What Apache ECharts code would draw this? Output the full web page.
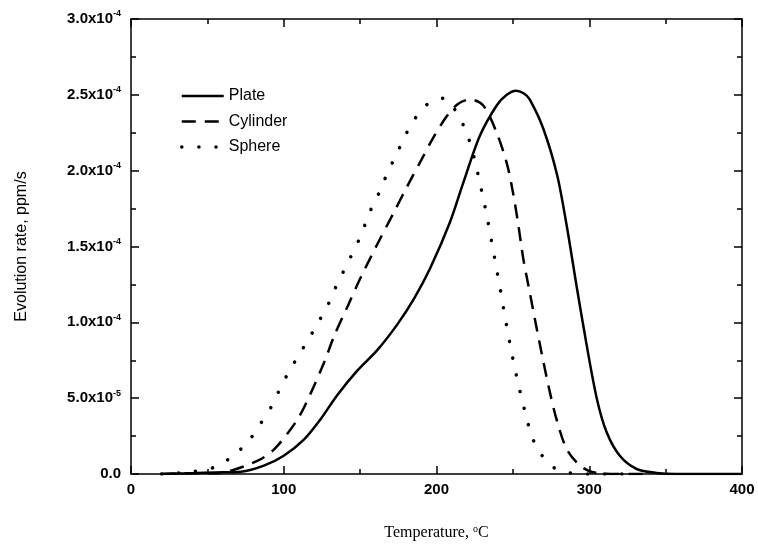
<!DOCTYPE html>
<html><head><meta charset="utf-8">
<script src="https://cdn.jsdelivr.net/npm/echarts@6/dist/echarts.min.js"></script>
<style>html,body{margin:0;padding:0;background:#fff}#c{width:758px;height:551px}</style>
</head><body><div id="c"></div>
<script>
const plateT = [20, 40, 55, 72, 87, 100, 113.5, 124, 135, 148, 161.5, 174.6, 185.5, 196, 208.8, 217.5, 228.4, 239.4, 246, 252, 257, 261, 270, 279, 285.2, 291.7, 298.3, 305, 311.4, 320, 331, 344, 357, 380, 400];
const plateV = [0, 0.05, 0.1, 0.15, 0.55, 1.2, 2.3, 3.6, 5.2, 6.8, 8.2, 9.9, 11.6, 13.6, 16.6, 19.2, 22.3, 24.3, 25.0, 25.27, 25.1, 24.7, 22.75, 19.7, 16.4, 12.4, 8.5, 4.95, 2.75, 1.2, 0.33, 0.07, 0, 0, 0];
const cylT = [20, 40, 50, 63, 83, 94, 109, 118, 126.6, 133, 142, 150.6, 161.5, 171.3, 181, 190, 198, 206.8, 214, 222, 230.6, 239.4, 246, 250, 253.6, 256.8, 261, 265.6, 270, 274.2, 278.6, 285.2, 294, 302.6, 318, 340];
const cylV = [0, 0.05, 0.05, 0.15, 0.88, 1.65, 3.6, 5.4, 7.4, 9.1, 11.1, 13.0, 15.2, 17.1, 19.0, 20.7, 22.2, 23.6, 24.4, 24.7, 24.3, 22.5, 20.5, 18.6, 16.4, 14.2, 12.0, 9.6, 7.4, 5.4, 3.6, 1.65, 0.55, 0.11, 0, 0];
const sphT = [20, 40, 54.5, 65.5, 76.4, 84, 91.7, 97, 102.6, 109, 115.7, 122, 128.7, 133, 138.6, 144, 149.5, 153.8, 158.2, 163.7, 168, 173.5, 179, 185, 194.2, 204.5, 213.2, 218.6, 223, 228.4, 232.8, 237, 241, 244.8, 249, 253.6, 259, 262.3, 267.8, 276.5, 287.4, 300, 330];
const sphV = [0, 0.15, 0.44, 1.1, 2.1, 3.2, 4.4, 5.5, 6.6, 7.7, 8.8, 9.9, 11.1, 12.1, 13.25, 14.35, 15.5, 16.6, 17.7, 18.8, 19.9, 21.0, 22.2, 23.3, 24.4, 24.77, 23.85, 22.75, 21.5, 19.2, 17.1, 14.8, 12.6, 10.4, 8.1, 5.9, 3.7, 2.5, 1.4, 0.44, 0.07, 0, 0];
const seriesNames = ['Plate', 'Cylinder', 'Sphere'];
const yTickMant = {0: '0.0', 5e-5: '5.0x10{s|-5}', 1e-4: '1.0x10{s|-4}', 1.5e-4: '1.5x10{s|-4}', 2e-4: '2.0x10{s|-4}', 2.5e-4: '2.5x10{s|-4}', 3e-4: '3.0x10{s|-4}'};
const xTicks = [0, 100, 200, 300, 400];

function pairs(t, v) { return t.map((x, i) => [x, v[i] * 1e-5]); }

const chart = echarts.init(document.getElementById('c'), null, {renderer: 'canvas'});
const tickCommon = {show: true, inside: true, length: 8, lineStyle: {color: '#000', width: 1.5}};
const minorCommon = {show: true, splitNumber: 2, length: 5, lineStyle: {color: '#000', width: 1.5}};
const lineCommon = {show: true, onZero: false, lineStyle: {color: '#000', width: 1.5}};
const ykey = v => {
  const keys = Object.keys(yTickMant).map(Number);
  let best = keys[0];
  keys.forEach(k => { if (Math.abs(k - v) < Math.abs(best - v)) best = k; });
  return yTickMant[best];
};
const styles = {
  Plate: {color: '#000', width: 2.5, type: 'solid'},
  Cylinder: {color: '#000', width: 2.5, type: [14, 9]},
  Sphere: {color: '#000', width: 3.5, type: [0.1, 17], cap: 'round'}
};
chart.setOption({
  animation: false,
  backgroundColor: '#fff',
  grid: {left: 131, right: 16, top: 19, bottom: 77},
  legend: {
    orient: 'vertical', left: 175, top: 83, itemWidth: 42, itemHeight: 12, itemGap: 9.5,
    itemStyle: {opacity: 0},
    textStyle: {fontFamily: 'Liberation Sans, Arial', fontSize: 16, color: '#000'},
    data: seriesNames.map(n => ({name: n, lineStyle: styles[n]}))
  },
  xAxis: [{
    type: 'value', min: 0, max: 400, interval: 100, position: 'bottom',
    axisLine: lineCommon, axisTick: tickCommon, minorTick: minorCommon, splitLine: {show: false},
    axisLabel: {margin: 8, color: '#000', fontFamily: 'Liberation Sans, Arial', fontWeight: 'bold', fontSize: 15,
      formatter: v => xTicks.includes(v) ? String(v) : ''},
    name: 'Temperature, {s|o}C', nameLocation: 'middle', nameGap: 50,
    nameTextStyle: {fontFamily: 'Liberation Serif, Times New Roman', fontSize: 16, color: '#000',
      rich: {s: {fontFamily: 'Liberation Serif', fontSize: 10, verticalAlign: 'top', padding: [0, 0, 8, 0]}}}
  }, {
    type: 'value', min: 0, max: 400, interval: 100, position: 'top',
    axisLine: lineCommon, axisTick: tickCommon, minorTick: minorCommon, splitLine: {show: false},
    axisLabel: {show: false}
  }],
  yAxis: [{
    type: 'value', min: 0, max: 3e-4, interval: 5e-5, position: 'left',
    axisLine: lineCommon, axisTick: tickCommon, minorTick: minorCommon, splitLine: {show: false},
    axisLabel: {margin: 10, color: '#000', fontFamily: 'Liberation Sans, Arial', fontWeight: 'bold', fontSize: 15,
      formatter: v => ykey(v),
      rich: {s: {fontFamily: 'Liberation Sans', fontWeight: 'bold', fontSize: 9, padding: [0, 0, 10, 0], color: '#000'}}},
    name: 'Evolution rate, ppm/s', nameLocation: 'middle', nameGap: 101, nameRotate: 90,
    nameTextStyle: {fontFamily: 'Liberation Sans, Arial', fontSize: 16, color: '#000'}
  }, {
    type: 'value', min: 0, max: 3e-4, interval: 5e-5, position: 'right',
    axisLine: lineCommon, axisTick: tickCommon, minorTick: minorCommon, splitLine: {show: false},
    axisLabel: {show: false}
  }],
  series: [
    {name: 'Plate', type: 'line', data: pairs(plateT, plateV), smooth: 0.3, symbol: 'none',
      lineStyle: styles.Plate, itemStyle: {color: '#000'}},
    {name: 'Cylinder', type: 'line', data: pairs(cylT, cylV), smooth: 0.3, symbol: 'none',
      lineStyle: styles.Cylinder, itemStyle: {color: '#000'}},
    {name: 'Sphere', type: 'line', data: pairs(sphT, sphV), smooth: 0.3, symbol: 'none',
      lineStyle: styles.Sphere, itemStyle: {color: '#000'}}
  ]
});
</script></body></html>
